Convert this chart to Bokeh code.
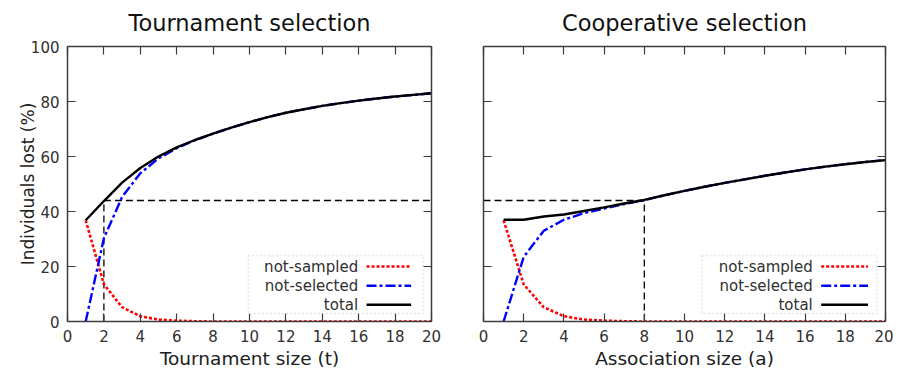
from bokeh.plotting import figure
from bokeh.models import (Range1d, LinearAxis, FixedTicker, Label, BoxAnnotation,
                          Arrow, CustomJSTickFormatter)
from bokeh.layouts import row
from bokeh.embed import file_html
from bokeh.resources import INLINE

# ---------------- data ----------------
sizes = list(range(1, 21))

# Tournament selection (x = tournament size t)
ts_not_sampled = [36.8, 13.5, 5.2, 1.9, 0.7, 0.3, 0.1, 0.0, 0.0, 0.0,
                  0.0, 0.0, 0.0, 0.0, 0.0, 0.0, 0.0, 0.0, 0.0, 0.0]
ts_not_selected = [0.0, 30.3, 45.3, 53.9, 59.3, 63.0, 65.9, 68.3, 70.5, 72.5,
                   74.3, 75.9, 77.2, 78.4, 79.4, 80.3, 81.1, 81.8, 82.4, 83.0]
ts_total = [36.8, 43.8, 50.5, 55.8, 60.0, 63.3, 66.0, 68.3, 70.5, 72.5,
            74.3, 75.9, 77.2, 78.4, 79.4, 80.3, 81.1, 81.8, 82.4, 83.0]

# Cooperative selection (x = association size a)
cs_not_sampled = [36.8, 13.5, 5.2, 1.9, 0.7, 0.3, 0.1, 0.0, 0.0, 0.0,
                  0.0, 0.0, 0.0, 0.0, 0.0, 0.0, 0.0, 0.0, 0.0, 0.0]
cs_not_selected = [0.0, 23.5, 33.0, 37.0, 39.4, 41.1, 42.7, 44.1, 45.9, 47.5,
                   49.0, 50.4, 51.7, 53.0, 54.2, 55.3, 56.3, 57.2, 58.0, 58.7]
cs_total = [37.0, 37.0, 38.2, 38.9, 40.2, 41.5, 42.9, 44.2, 45.9, 47.5,
            49.0, 50.4, 51.7, 53.0, 54.2, 55.3, 56.3, 57.2, 58.0, 58.7]

# reference (dashed) guide: level of loss and the matching sizes
ref_level = 44.0
ts_ref_size = 2
cs_ref_size = 8

x_ticks = list(range(0, 21, 2))
y_ticks = list(range(0, 101, 20))
x_max = 20
y_max = 100

series_names = ["not-sampled", "not-selected", "total"]

# ---------------- styles ----------------
FONT = "DejaVu Sans"
AX_COL = "#3c3c3c"
STYLES = {
    "not-sampled": dict(line_color="#ff0000", line_width=2.6, line_dash="3 2"),
    "not-selected": dict(line_color="#0000ff", line_width=2.4, line_dash="10 3 3 3"),
    "total": dict(line_color="#000000", line_width=2.4),
}
REF_STYLE = dict(line_color="#000000", line_width=1.3, line_dash="7 4")


def style_axis(ax, ticks, show_labels):
    ax.ticker = FixedTicker(ticks=ticks)
    ax.major_tick_in = 8
    ax.major_tick_out = 0
    ax.minor_tick_line_color = None
    ax.axis_line_color = AX_COL
    ax.axis_line_width = 1.5
    ax.major_tick_line_color = AX_COL
    ax.major_tick_line_width = 1.2
    ax.major_label_text_font = FONT
    ax.major_label_text_font_size = "15px"
    ax.major_label_text_color = "#303030"
    ax.axis_label_text_font = FONT
    ax.axis_label_text_font_size = "17px"
    ax.axis_label_text_font_style = "normal"
    ax.axis_label_text_color = "#202020"
    if show_labels:
        ax.major_label_standoff = 8
    else:
        ax.formatter = CustomJSTickFormatter(code="return ''")
        ax.major_label_standoff = 0
        ax.major_label_text_font_size = "1px"


def make_panel(title, xlabel, not_sampled, not_selected, total, ref_size,
               width, bl, br, show_y, legend_geom):
    p = figure(width=width, height=371, output_backend="svg", toolbar_location=None,
               x_range=Range1d(0, x_max), y_range=Range1d(0, y_max),
               min_border_left=bl, min_border_right=br,
               min_border_top=46, min_border_bottom=48,
               x_axis_location=None, y_axis_location=None)
    p.grid.visible = False
    p.outline_line_color = None
    p.background_fill_color = "white"
    p.border_fill_color = "white"

    bottom = LinearAxis(axis_label=xlabel)
    style_axis(bottom, x_ticks, True)
    bottom.axis_label_text_font_size = "18.5px"
    bottom.axis_label_standoff = 3
    p.add_layout(bottom, "below")

    left = LinearAxis(axis_label="Individuals lost (%)" if show_y else None)
    style_axis(left, y_ticks, show_y)
    if show_y:
        left.axis_label_standoff = -10
    p.add_layout(left, "left")

    top = LinearAxis()
    style_axis(top, x_ticks, False)
    p.add_layout(top, "above")
    right = LinearAxis()
    style_axis(right, y_ticks, False)
    p.add_layout(right, "right")

    p.title.text = title
    p.title.text_font = FONT
    p.title.text_font_size = "22.5px"
    p.title.text_font_style = "normal"
    p.title.text_color = "#111111"
    p.title.align = "center"
    p.title.vertical_align = "top"
    p.title.standoff = 18

    # dashed guides
    p.line([ref_size, ref_size], [0, ref_level], **REF_STYLE)
    if ref_size <= 4:
        p.line([ref_size, x_max], [ref_level, ref_level], **REF_STYLE)
    else:
        p.line([0, ref_size], [ref_level, ref_level], **REF_STYLE)

    for name, vals in zip(series_names, [not_sampled, not_selected, total]):
        p.line(sizes, vals, **STYLES[name])

    # legend (gnuplot style: label then sample)
    bx0, bx1, by0, by1, tx, lx0, lx1, rows = legend_geom
    p.add_layout(BoxAnnotation(left=bx0, right=bx1, bottom=by0, top=by1,
                               fill_color="white", fill_alpha=1.0,
                               line_color="#8a8a8a", line_width=1, line_dash="2 2"))
    for name, ry in zip(series_names, rows):
        p.add_layout(Label(x=tx, y=ry, text=name, text_align="right",
                           text_baseline="middle", text_font=FONT,
                           text_font_size="15px", text_color="#303030"))
        p.add_layout(Arrow(end=None, x_start=lx0, y_start=ry, x_end=lx1, y_end=ry,
                           **STYLES[name]))
    return p


rows_y = [20.0, 13.0, 6.1]
p1 = make_panel("Tournament selection", "Tournament size (t)",
                ts_not_sampled, ts_not_selected, ts_total, ts_ref_size,
                447, 67, 16, True,
                (9.93, 19.54, 2.9, 23.9, 15.97, 16.43, 18.88, rows_y))
p2 = make_panel("Cooperative selection", "Association size (a)",
                cs_not_sampled, cs_not_selected, cs_total, cs_ref_size,
                446, 36, 8, False,
                (10.86, 19.57, 2.9, 23.9, 16.38, 16.8, 19.13, rows_y))

layout = row(p1, p2)
open("out.html", "w").write(file_html(layout, INLINE))
